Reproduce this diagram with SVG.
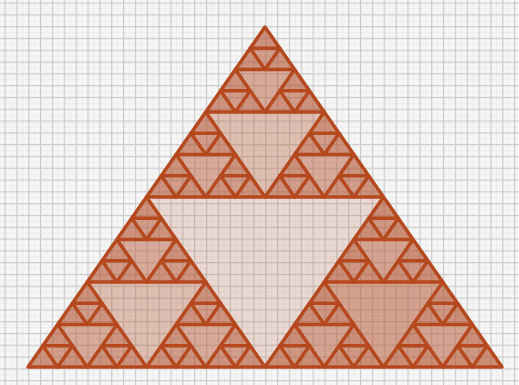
<svg xmlns="http://www.w3.org/2000/svg" xmlns:xlink="http://www.w3.org/1999/xlink" width="519" height="385" viewBox="0 0 519 385">
  <style>
    .ns { vector-effect: non-scaling-stroke; }
  </style>
  <defs>
    <pattern id="grid" patternUnits="userSpaceOnUse" x="4.5" y="2.5" width="11.85" height="11.8">
      <rect x="0" y="0" width="11.85" height="11.8" fill="#f6f6f6"/>
      <rect x="5.9" y="0" width="1" height="11.8" fill="#ededed"/>
      <rect x="0" y="5.9" width="11.85" height="1" fill="#ededed"/>
      <rect x="0" y="0" width="1.2" height="11.8" fill="#cbcbcb"/>
      <rect x="0" y="0" width="11.85" height="1.2" fill="#cbcbcb"/>
    </pattern>
    <polygon id="tri" class="ns" points="265,27 28,367 502,367"/>
    <!-- fill tree -->
    <g id="F4"><use xlink:href="#tri" fill-opacity="0.13"/></g>
    <g id="F3"><use xlink:href="#tri" fill-opacity="0.13"/>
      <use xlink:href="#F4" transform="matrix(.5 0 0 .5 132.5 13.5)"/>
      <use xlink:href="#F4" transform="matrix(.5 0 0 .5 14 183.5)"/>
      <use xlink:href="#F4" transform="matrix(.5 0 0 .5 251 183.5)"/>
    </g>
    <g id="F2"><use xlink:href="#tri" fill-opacity="0.18"/>
      <use xlink:href="#F3" transform="matrix(.5 0 0 .5 132.5 13.5)"/>
      <use xlink:href="#F3" transform="matrix(.5 0 0 .5 14 183.5)"/>
      <use xlink:href="#F3" transform="matrix(.5 0 0 .5 251 183.5)"/>
    </g>
    <g id="F1"><use xlink:href="#tri" fill-opacity="0.19"/>
      <use xlink:href="#F2" transform="matrix(.5 0 0 .5 132.5 13.5)"/>
      <use xlink:href="#F2" transform="matrix(.5 0 0 .5 14 183.5)"/>
      <use xlink:href="#F2" transform="matrix(.5 0 0 .5 251 183.5)"/>
    </g>
    <!-- stroke tree -->
    <g id="S3">
      <use xlink:href="#tri" transform="matrix(.5 0 0 .5 132.5 13.5)"/>
      <use xlink:href="#tri" transform="matrix(.5 0 0 .5 14 183.5)"/>
      <use xlink:href="#tri" transform="matrix(.5 0 0 .5 251 183.5)"/>
    </g>
    <g id="S2">
      <use xlink:href="#S3" transform="matrix(.5 0 0 .5 132.5 13.5)"/>
      <use xlink:href="#S3" transform="matrix(.5 0 0 .5 14 183.5)"/>
      <use xlink:href="#S3" transform="matrix(.5 0 0 .5 251 183.5)"/>
    </g>
    <g id="S1">
      <use xlink:href="#S2" transform="matrix(.5 0 0 .5 132.5 13.5)"/>
      <use xlink:href="#S2" transform="matrix(.5 0 0 .5 14 183.5)"/>
      <use xlink:href="#S2" transform="matrix(.5 0 0 .5 251 183.5)"/>
    </g>
    <g id="S0">
      <use xlink:href="#S1" transform="matrix(.5 0 0 .5 132.5 13.5)"/>
      <use xlink:href="#S1" transform="matrix(.5 0 0 .5 14 183.5)"/>
      <use xlink:href="#S1" transform="matrix(.5 0 0 .5 251 183.5)"/>
    </g>
  </defs>

  <rect x="0" y="0" width="519" height="385" fill="url(#grid)"/>

  <g id="fills" fill="#b4502a" stroke="none">
    <use xlink:href="#tri" fill-opacity="0.17"/>
    <use xlink:href="#F1" transform="matrix(.5 0 0 .5 132.5 13.5)"/>
    <use xlink:href="#F1" transform="matrix(.5 0 0 .5 14 183.5)"/>
    <use xlink:href="#F1" transform="matrix(.5 0 0 .5 251 183.5)"/>
    <!-- slightly darker lower-right part -->
    <polygon points="383.5,197 265,367 502,367" fill-opacity="0.07"/>
    <polygon points="324.25,282 442.75,282 383.5,367" fill-opacity="0.2"/>
  </g>

  <g id="outlines" fill="none" stroke="#b5481c" stroke-width="3.4" stroke-linejoin="round">
    <use xlink:href="#S0"/>
  </g>
</svg>
